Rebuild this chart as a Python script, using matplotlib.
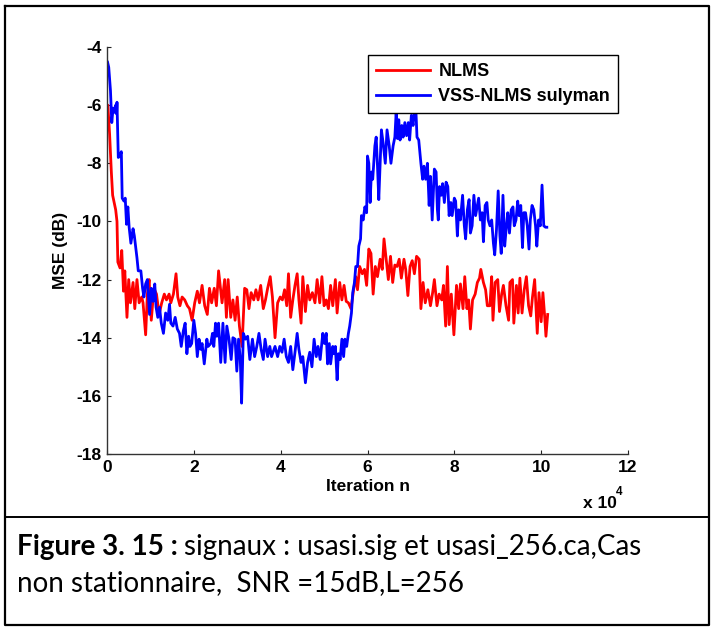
import matplotlib
matplotlib.use("Agg")
import matplotlib.pyplot as plt
from matplotlib.lines import Line2D
import numpy as np


# iteration index in units of 1e4, MSE in dB
nlms_x = [0.0, 0.02, 0.06, 0.1, 0.13, 0.2, 0.23, 0.25, 0.3, 0.34, 0.38, 0.41, 0.46, 0.5,
          0.54, 0.6, 0.64, 0.69, 0.74, 0.8, 0.83, 0.89, 0.93, 0.97, 1.02, 1.08, 1.14, 1.2,
          1.26, 1.32, 1.37, 1.43, 1.47, 1.53, 1.59, 1.63, 1.68, 1.73, 1.79, 1.85, 1.9, 1.96,
          2.02, 2.08, 2.13, 2.19, 2.25, 2.31, 2.36, 2.41, 2.47, 2.52, 2.57, 2.65, 2.71, 2.75,
          2.79, 2.85, 2.9, 2.95, 3.0, 3.05, 3.11, 3.17, 3.22, 3.27, 3.32, 3.38, 3.43, 3.48,
          3.54, 3.6, 3.65, 3.7, 3.76, 3.81, 3.87, 3.93, 3.99, 4.04, 4.09, 4.14, 4.18, 4.23,
          4.28, 4.33, 4.38, 4.42, 4.47, 4.51, 4.57, 4.62, 4.67, 4.73, 4.79, 4.84, 4.9, 4.95,
          5.0, 5.05, 5.1, 5.15, 5.2, 5.26, 5.3, 5.36, 5.41, 5.46, 5.51, 5.56, 5.62, 5.68,
          5.73, 5.77, 5.82, 5.88, 5.93, 5.98, 6.03, 6.08, 6.13, 6.18, 6.23, 6.29, 6.34, 6.38,
          6.43, 6.48, 6.53, 6.58, 6.63, 6.68, 6.73, 6.78, 6.84, 6.88, 6.93, 6.98, 7.03, 7.08,
          7.13, 7.19, 7.23, 7.28, 7.33, 7.39, 7.45, 7.5, 7.54, 7.6, 7.65, 7.71, 7.75, 7.8,
          7.84, 7.88, 7.93, 7.99, 8.05, 8.1, 8.14, 8.2, 8.24, 8.29, 8.33, 8.37, 8.42, 8.48,
          8.53, 8.58, 8.61, 8.67, 8.72, 8.76, 8.82, 8.86, 8.89, 8.94, 9.0, 9.04, 9.09, 9.13,
          9.19, 9.25, 9.28, 9.34, 9.37, 9.43, 9.47, 9.51, 9.56, 9.61, 9.66, 9.71, 9.76, 9.8,
          9.85, 9.91, 9.95, 10.0, 10.04, 10.08, 10.11, 10.15]
nlms_y = [-6.0, -6.0, -7.0, -8.3, -9.1, -9.6, -10.0, -11.4, -11.6, -11.0, -12.4, -11.7, -13.3, -12.0,
          -12.8, -12.1, -13.0, -12.0, -12.8, -12.6, -12.8, -13.9, -12.5, -12.0, -13.4, -12.3, -12.5, -13.2,
          -12.8, -12.5, -12.7, -12.5, -12.8, -12.5, -11.8, -12.6, -12.9, -12.6, -12.7, -12.9, -13.0, -13.4,
          -12.8, -12.4, -12.8, -12.2, -12.9, -13.2, -12.3, -12.8, -12.3, -12.9, -11.7, -12.8, -12.0, -13.3,
          -12.0, -13.3, -12.7, -13.4, -12.6, -13.6, -14.3, -12.3, -12.35, -13.0, -12.45, -12.7, -12.35, -12.7,
          -12.2, -13.0, -12.7, -12.3, -11.9, -12.6, -14.0, -12.8, -12.6, -12.7, -12.35, -12.9, -11.8, -13.3,
          -12.7, -12.2, -11.8, -12.7, -13.5, -11.9, -13.1, -12.2, -12.7, -12.45, -12.8, -12.0, -12.8, -11.9,
          -12.9, -12.7, -13.0, -12.2, -12.9, -12.0, -13.15, -12.1, -12.7, -12.2, -12.75, -12.8, -13.0, -12.35,
          -11.9, -12.35, -11.55, -11.8, -11.65, -12.2, -10.95, -11.1, -12.5, -11.55, -11.9, -11.3, -11.65, -10.6,
          -11.3, -12.0, -11.2, -12.1, -11.5, -11.55, -11.3, -11.95, -11.3, -11.65, -12.55, -11.55, -11.35, -11.8,
          -11.2, -11.3, -13.0, -12.1, -12.8, -12.35, -12.9, -12.45, -12.0, -12.9, -12.5, -12.7, -12.2, -13.6,
          -11.55, -13.55, -12.5, -13.9, -12.2, -13.0, -12.15, -13.0, -11.9, -13.0, -12.7, -13.7, -12.7, -12.5,
          -12.1, -11.95, -11.65, -12.1, -12.35, -12.9, -12.9, -11.9, -13.4, -12.1, -12.0, -13.1, -12.5, -12.2,
          -12.9, -13.4, -12.1, -12.0, -13.5, -12.2, -13.15, -11.95, -13.15, -12.35, -11.9, -12.9, -13.25, -12.6,
          -12.0, -13.85, -12.45, -13.45, -12.45, -13.25, -13.95, -13.2]

vss_x = [0.0, 0.01, 0.04, 0.08, 0.11, 0.14, 0.17, 0.2, 0.22, 0.23, 0.26, 0.3, 0.33, 0.35,
         0.39, 0.42, 0.45, 0.48, 0.51, 0.55, 0.6, 0.63, 0.67, 0.69, 0.72, 0.78, 0.82, 0.85,
         0.89, 0.93, 0.98, 1.02, 1.06, 1.1, 1.13, 1.17, 1.21, 1.25, 1.3, 1.35, 1.4, 1.44,
         1.47, 1.52, 1.57, 1.62, 1.67, 1.71, 1.76, 1.8, 1.84, 1.88, 1.91, 1.95, 2.0, 2.04,
         2.08, 2.12, 2.16, 2.19, 2.24, 2.3, 2.33, 2.39, 2.43, 2.46, 2.5, 2.53, 2.57, 2.62,
         2.67, 2.72, 2.76, 2.81, 2.86, 2.9, 2.95, 2.99, 3.03, 3.07, 3.1, 3.14, 3.19, 3.24,
         3.29, 3.35, 3.4, 3.45, 3.5, 3.55, 3.6, 3.64, 3.7, 3.75, 3.79, 3.87, 3.93, 3.98,
         4.03, 4.08, 4.13, 4.18, 4.23, 4.28, 4.33, 4.38, 4.42, 4.47, 4.51, 4.57, 4.62, 4.67,
         4.72, 4.77, 4.82, 4.86, 4.91, 4.97, 5.01, 5.05, 5.08, 5.12, 5.15, 5.2, 5.23, 5.26,
         5.3, 5.33, 5.37, 5.41, 5.45, 5.48, 5.52, 5.56, 5.59, 5.63, 5.66, 5.7, 5.73, 5.77,
         5.8, 5.84, 5.86, 5.9, 5.94, 5.98, 6.0, 6.03, 6.06, 6.09, 6.12, 6.14, 6.17, 6.2,
         6.23, 6.26, 6.29, 6.32, 6.36, 6.41, 6.45, 6.5, 6.54, 6.59, 6.63, 6.66, 6.69, 6.72,
         6.75, 6.79, 6.82, 6.86, 6.9, 6.94, 6.97, 7.01, 7.05, 7.08, 7.11, 7.14, 7.18, 7.23,
         7.27, 7.3, 7.34, 7.38, 7.42, 7.45, 7.49, 7.54, 7.58, 7.61, 7.63, 7.66, 7.7, 7.73,
         7.77, 7.81, 7.85, 7.88, 7.92, 7.95, 8.0, 8.03, 8.07, 8.1, 8.14, 8.19, 8.23, 8.26,
         8.3, 8.34, 8.37, 8.41, 8.45, 8.49, 8.53, 8.56, 8.6, 8.64, 8.67, 8.71, 8.75, 8.78,
         8.82, 8.86, 8.9, 8.93, 8.97, 9.01, 9.05, 9.08, 9.12, 9.16, 9.2, 9.23, 9.27, 9.31,
         9.35, 9.38, 9.42, 9.46, 9.49, 9.53, 9.57, 9.6, 9.64, 9.68, 9.72, 9.75, 9.79, 9.83,
         9.87, 9.9, 9.94, 9.98, 10.02, 10.06, 10.1, 10.13]
vss_y = [-4.5, -4.5, -4.7, -5.5, -6.6, -6.1, -6.25, -6.0, -6.3, -5.9, -7.8, -7.75, -7.6, -9.2,
         -9.3, -9.2, -10.1, -9.5, -10.2, -10.75, -10.25, -10.5, -11.0, -11.25, -11.7, -11.7, -12.3, -12.6,
         -12.15, -12.0, -13.2, -12.3, -12.75, -12.15, -12.95, -13.3, -12.95, -13.5, -13.85, -13.15, -13.4, -12.85,
         -13.5, -13.6, -13.3, -13.7, -13.85, -14.3, -13.75, -13.5, -14.55, -13.95, -14.3, -14.2, -13.4, -13.85,
         -14.65, -14.05, -14.4, -14.2, -14.9, -14.05, -14.3, -14.2, -13.85, -14.3, -13.5, -13.95, -13.5, -14.85,
         -13.5, -14.85, -13.6, -14.05, -14.75, -14.0, -14.05, -15.15, -14.05, -14.75, -16.25, -13.85, -14.05, -13.95,
         -14.75, -14.05, -14.65, -14.3, -13.85, -14.4, -14.75, -14.05, -14.65, -14.3, -14.65, -14.3, -14.65, -14.3,
         -14.5, -14.05, -14.65, -14.85, -14.3, -15.1, -14.5, -13.85, -14.4, -14.85, -14.65, -15.55, -14.85, -14.5,
         -15.0, -14.05, -14.65, -14.3, -14.75, -13.85, -14.2, -13.85, -14.9, -14.2, -14.9, -14.3, -14.55, -14.3,
         -15.45, -14.55, -14.75, -14.05, -14.65, -14.05, -14.3, -13.85, -13.6, -13.15, -12.45, -12.1, -11.55, -11.55,
         -10.85, -10.6, -9.8, -9.95, -9.5, -9.7, -7.75, -8.0, -9.35, -8.3, -8.55, -8.1, -7.4, -7.1,
         -8.1, -9.25, -8.0, -6.85, -7.3, -8.0, -6.85, -7.4, -8.0, -7.4, -7.1, -6.25, -7.15, -6.5,
         -7.2, -6.7, -7.1, -6.6, -7.05, -6.6, -7.2, -6.35, -6.7, -6.2, -6.0, -7.1, -7.2, -8.0,
         -8.55, -8.1, -8.55, -8.0, -9.45, -8.45, -9.95, -8.2, -8.3, -9.6, -9.95, -8.8, -9.1, -8.7,
         -9.35, -8.65, -8.8, -9.8, -9.35, -9.8, -9.2, -9.3, -10.5, -9.6, -9.95, -9.1, -10.15, -10.6,
         -9.6, -9.25, -10.4, -10.15, -9.1, -9.8, -9.45, -9.2, -9.95, -9.7, -10.7, -9.45, -9.35, -9.95,
         -10.15, -9.95, -10.75, -11.15, -10.3, -8.95, -10.5, -11.1, -9.1, -10.85, -10.15, -9.7, -10.4, -9.6,
         -9.5, -10.15, -9.95, -9.3, -9.8, -9.45, -10.9, -9.7, -9.7, -10.15, -10.95, -9.95, -9.45, -9.6,
         -10.15, -10.85, -9.95, -10.15, -8.75, -10.15, -10.2, -10.2]

series_labels = ["NLMS", "VSS-NLMS sulyman"]
series_colors = ["#ff0000", "#0000ff"]
x_ticks = [0, 2, 4, 6, 8, 10, 12]
y_ticks = [-18, -16, -14, -12, -10, -8, -6, -4]

W, H = 713, 629
BOLD = dict(family="Liberation Sans", weight="bold")
FS = 12.5

fig = plt.figure(figsize=(W / 100, H / 100), dpi=100)
ax = fig.add_axes([107 / W, 1 - 454 / H, (628 - 107) / W, (454 - 47) / H])

ax.plot(nlms_x, nlms_y, color=series_colors[0], lw=2.0, label=series_labels[0])
ax.plot(vss_x, vss_y, color=series_colors[1], lw=2.0, label=series_labels[1])

ax.set_xlim(0, 12)
ax.set_ylim(-18, -4)
ax.set_xticks(x_ticks)
ax.set_yticks(y_ticks)
ax.set_xticklabels([str(t) for t in x_ticks], **BOLD, fontsize=FS)
ax.set_yticklabels([str(t) for t in y_ticks], **BOLD, fontsize=FS)
ax.tick_params(direction="in", length=3, width=0.8, color="#222222", pad=4)
for side in ("top", "right"):
    ax.spines[side].set_visible(False)
for side in ("left", "bottom"):
    ax.spines[side].set_color("#333333")
    ax.spines[side].set_linewidth(1.0)

ax.set_xlabel("Iteration n", fontsize=FS, labelpad=3, **BOLD)
ax.set_ylabel("MSE (dB)", fontsize=FS, labelpad=6, **BOLD)

fig.text(583 / W, 1 - 508 / H, "x 10", fontsize=FS, va="baseline", **BOLD)
fig.text(616 / W, 1 - 495 / H, "4", fontsize=8.5, va="baseline", **BOLD)

leg = ax.legend(loc="upper left", bbox_to_anchor=(368 / W, 1 - 55 / H),
                bbox_transform=fig.transFigure, borderaxespad=0,
                prop=dict(family="Liberation Sans", weight="bold", size=13),
                handlelength=3.0, handletextpad=0.45, labelspacing=0.45,
                borderpad=0.45, fancybox=False, framealpha=1)
leg.get_frame().set_edgecolor("black")
leg.get_frame().set_linewidth(1.0)

# outer frame and caption separator
fig.add_artist(Line2D([5 / W, 709 / W, 709 / W, 5 / W, 5 / W],
                      [1 - 6 / H, 1 - 6 / H, 1 - 625 / H, 1 - 625 / H, 1 - 6 / H],
                      color="black", lw=1.6))
fig.add_artist(Line2D([5 / W, 709 / W], [1 - 517 / H, 1 - 517 / H], color="black", lw=1.4))

cap_font = "Lato"
cap_fs = 20
t1 = fig.text(17 / W, 1 - 555 / H, "Figure 3. 15 :", fontsize=cap_fs, family=cap_font,
              weight="bold", va="baseline")
fig.canvas.draw()
bb = t1.get_window_extent(fig.canvas.get_renderer())
fig.text(bb.x1 / W + 6 / W, 1 - 555 / H, "signaux : usasi.sig et usasi_256.ca,Cas",
         fontsize=cap_fs, family=cap_font, va="baseline")
fig.text(17 / W, 1 - 591 / H, "non stationnaire,  SNR =15dB,L=256",
         fontsize=cap_fs, family=cap_font, va="baseline")

fig.savefig("out.png", dpi=100)
